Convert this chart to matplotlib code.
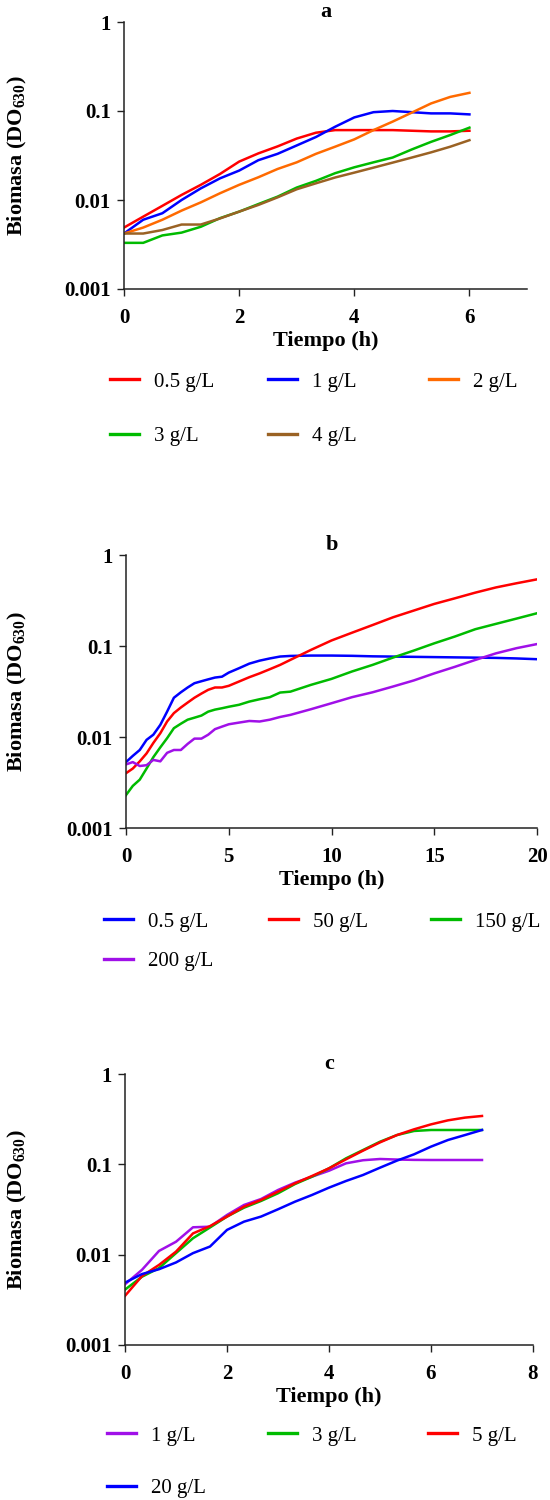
import numpy as np
import matplotlib
matplotlib.use("Agg")
import matplotlib.pyplot as plt
from matplotlib.ticker import FixedLocator, NullLocator
from matplotlib.transforms import blended_transform_factory

plt.rcParams["font.family"] = ["Liberation Serif", "DejaVu Serif"]
plt.rcParams["mathtext.fontset"] = "custom"
plt.rcParams["mathtext.bf"] = "Liberation Serif:bold"
plt.rcParams["mathtext.rm"] = "Liberation Serif"

# ---- panel a: sampling every 20 min, 0-6 h ----
t_a = np.arange(19) / 3.0
a_05 = [0.0049, 0.0065, 0.0086, 0.0114, 0.0148, 0.0196, 0.027, 0.0334, 0.040, 0.049,
        0.057, 0.061, 0.061, 0.061, 0.061, 0.060, 0.059, 0.059, 0.060]
a_1 = [0.0042, 0.0060, 0.0071, 0.0100, 0.0135, 0.0175, 0.0214, 0.028, 0.033, 0.041,
       0.051, 0.0665, 0.0847, 0.097, 0.100, 0.097, 0.094, 0.094, 0.0916]
a_2 = [0.0042, 0.0049, 0.0060, 0.0076, 0.0094, 0.0119, 0.0148, 0.018, 0.0223, 0.0265,
       0.033, 0.0397, 0.048, 0.061, 0.076, 0.096, 0.1216, 0.144, 0.160]
a_3 = [0.0033, 0.0033, 0.0040, 0.0043, 0.0050, 0.00625, 0.0074, 0.0090, 0.0109, 0.0138,
       0.0164, 0.020, 0.0233, 0.0265, 0.030, 0.037, 0.045, 0.0537, 0.065]
a_4 = [0.0042, 0.0042, 0.0046, 0.0053, 0.0053, 0.0062, 0.0074, 0.0088, 0.0107, 0.0132,
       0.0154, 0.0179, 0.0203, 0.0231, 0.0263, 0.030, 0.0343, 0.0397, 0.047]
labels_a = ["0.5 g/L", "1 g/L", "2 g/L", "3 g/L", "4 g/L"]
colors_a = ["#ff0000", "#0000ff", "#ff6a00", "#00bb00", "#9a6224"]

# ---- panel b: 0-20 h ----
t_b = [0, 0.33, 0.67, 1, 1.33, 1.67, 2, 2.33, 2.67, 3, 3.33, 3.67, 4, 4.33, 4.67, 5, 5.5,
       6, 6.5, 7, 7.5, 8, 9, 10, 11, 12, 13, 14, 15, 16, 17, 18, 19, 20]
b_05 = [0.0053, 0.0062, 0.0072, 0.0093, 0.0106, 0.0136, 0.019, 0.027, 0.031, 0.035,
        0.039, 0.041, 0.043, 0.045, 0.046, 0.051, 0.057, 0.064, 0.069, 0.073, 0.0766,
        0.0778, 0.0785, 0.0785, 0.078, 0.077, 0.0765, 0.076, 0.0755, 0.075, 0.0745,
        0.074, 0.073, 0.0716]
b_50 = [0.0040, 0.0045, 0.0054, 0.0066, 0.0086, 0.011, 0.0148, 0.0183, 0.0211, 0.0239,
        0.027, 0.030, 0.033, 0.035, 0.035, 0.0365, 0.0407, 0.0454, 0.050, 0.0556,
        0.062, 0.0704, 0.0906, 0.115, 0.140, 0.170, 0.207, 0.245, 0.290, 0.334, 0.386,
        0.440, 0.489, 0.540]
b_150 = [0.0023, 0.0029, 0.0034, 0.0045, 0.0060, 0.0077, 0.0097, 0.0125, 0.0140, 0.0155,
         0.0163, 0.0172, 0.019, 0.020, 0.0207, 0.0215, 0.0226, 0.0245, 0.026, 0.0274,
         0.0308, 0.0315, 0.0374, 0.0435, 0.0525, 0.062, 0.0747, 0.089, 0.107, 0.127,
         0.153, 0.175, 0.200, 0.229]
b_200 = [0.0050, 0.0053, 0.0048, 0.0049, 0.0056, 0.0054, 0.0067, 0.0072, 0.0072, 0.0084,
         0.0096, 0.0096, 0.0106, 0.0122, 0.0130, 0.0138, 0.0144, 0.0150, 0.0148, 0.0155,
         0.0166, 0.0175, 0.0202, 0.0235, 0.0274, 0.031, 0.0359, 0.0418, 0.050, 0.059,
         0.0703, 0.083, 0.0946, 0.105]
labels_b = ["0.5 g/L", "50 g/L", "150 g/L", "200 g/L"]
colors_b = ["#0000ff", "#ff0000", "#00bb00", "#a010e8"]

# ---- panel c: sampling every 20 min, 0-7 h ----
t_c = np.arange(22) / 3.0
c_1 = [0.0047, 0.0068, 0.0110, 0.0139, 0.0201, 0.0204, 0.0275, 0.0355, 0.0413, 0.052,
       0.0627, 0.073, 0.085, 0.1026, 0.111, 0.1146, 0.113, 0.112, 0.1117, 0.1117,
       0.1117, 0.1117]
c_3 = [0.0041, 0.0057, 0.0071, 0.0104, 0.0152, 0.020, 0.0264, 0.0331, 0.0393, 0.0478,
       0.0605, 0.073, 0.0903, 0.1165, 0.144, 0.178, 0.211, 0.234, 0.240, 0.240, 0.240,
       0.240]
c_5 = [0.0035, 0.0058, 0.0077, 0.0108, 0.0172, 0.0207, 0.0264, 0.034, 0.0403, 0.0498,
       0.0616, 0.0743, 0.0903, 0.1136, 0.1417, 0.175, 0.211, 0.244, 0.277, 0.307, 0.329,
       0.343]
c_20 = [0.0049, 0.0061, 0.0069, 0.0082, 0.0104, 0.0123, 0.0188, 0.0232, 0.0264, 0.0318,
        0.0386, 0.0458, 0.0552, 0.0654, 0.0762, 0.0918, 0.110, 0.129, 0.157, 0.186,
        0.211, 0.240]
labels_c = ["1 g/L", "3 g/L", "5 g/L", "20 g/L"]
colors_c = ["#a010e8", "#00bb00", "#ff0000", "#0000ff"]

yticks = [0.001, 0.01, 0.1, 1]
ytick_labels = ["0.001", "0.01", "0.1", "1"]

W, H = 550, 1500
fig = plt.figure(figsize=(W / 100, H / 100), dpi=100)
LEG_FS = 15
LW = 1.8


def px_axes(left, right, top, bottom):
    # axes box given in pixels of the 550x1500 canvas
    return fig.add_axes([left / W, 1 - bottom / H, (right - left) / W, (bottom - top) / H])


def style_axes(ax, title, xlim, xticks, bottom_px):
    ax.set_yscale("log")
    ax.set_ylim(0.001, 1)
    ax.set_xlim(*xlim)
    ax.yaxis.set_major_locator(FixedLocator(yticks))
    ax.yaxis.set_minor_locator(NullLocator())
    ax.set_yticklabels(ytick_labels)
    ax.set_xticks(xticks)
    ax.spines["top"].set_visible(False)
    ax.spines["right"].set_visible(False)
    for s in ("left", "bottom"):
        ax.spines[s].set_linewidth(1.1)
        ax.spines[s].set_color("#222222")
    ax.tick_params(direction="out", length=5, width=1.0, labelsize=15, colors="#222222",
                   labelcolor="black")
    ax.tick_params(axis="x", pad=9)
    ax.tick_params(axis="y", pad=4.5)
    for lab in ax.get_xticklabels() + ax.get_yticklabels():
        lab.set_fontweight("bold")
    ax.set_title(title, fontsize=16, fontweight="bold", pad=3)
    ax.set_xlabel("Tiempo (h)", fontsize=16, fontweight="bold")
    ax.xaxis.set_label_coords(0.5, 1 - (bottom_px + 42) / H,
                              transform=blended_transform_factory(ax.transAxes, fig.transFigure))
    ax.set_ylabel("Biomasa (DO$_{\\mathbf{630}}$)", fontsize=16, fontweight="bold")
    ax.yaxis.set_label_coords(29 / W, 0.5,
                              transform=blended_transform_factory(fig.transFigure, ax.transAxes))


def column_legends(lines, labels, col_x, row1_y, pitch):
    fs_px = LEG_FS * 100 / 72
    ls = pitch / fs_px - 1
    for j, x in enumerate(col_x):
        hs = lines[j::3]
        ls_lab = labels[j::3]
        if not hs:
            continue
        leg = fig.legend(hs, ls_lab, loc="upper left",
                         bbox_to_anchor=(x / W, 1 - (row1_y - 7) / H),
                         frameon=False, fontsize=LEG_FS, borderpad=0, borderaxespad=0,
                         handlelength=1.4, handletextpad=0.72, labelspacing=ls)
        for h in leg.legend_handles:
            h.set_linewidth(2.4)


# panel a
ax_a = px_axes(124, 527, 22, 289)
lines_a = [ax_a.plot(t_a, y, color=c, lw=LW)[0]
           for y, c in zip([a_05, a_1, a_2, a_3, a_4], colors_a)]
style_axes(ax_a, "a", (0, 7), [0, 2, 4, 6], 289)
column_legends(lines_a, labels_a, [110, 268, 429], 379, 56)

# panel b
ax_b = px_axes(126, 537, 555, 828)
lines_b = [ax_b.plot(t_b, y, color=c, lw=LW)[0]
           for y, c in zip([b_05, b_50, b_150, b_200], colors_b)]
style_axes(ax_b, "b", (0, 20), [0, 5, 10, 15, 20], 828)
column_legends(lines_b, labels_b, [104, 269, 431], 919, 41)

# panel c
ax_c = px_axes(125, 533, 1074, 1345)
lines_c = [ax_c.plot(t_c, y, color=c, lw=LW)[0]
           for y, c in zip([c_1, c_3, c_5, c_20], colors_c)]
style_axes(ax_c, "c", (0, 8), [0, 2, 4, 6, 8], 1345)
column_legends(lines_c, labels_c, [107, 268, 428], 1433, 54)

fig.savefig("out.png", dpi=100)
